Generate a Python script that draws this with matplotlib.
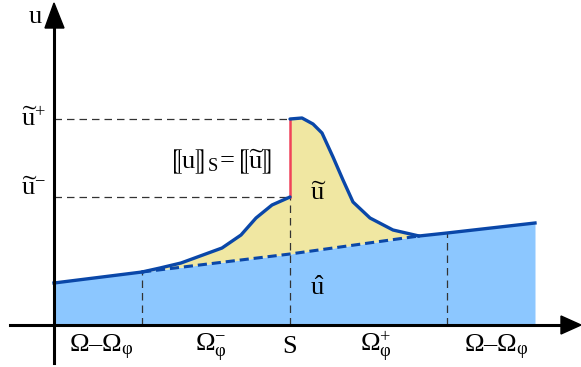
import numpy as np
import matplotlib
matplotlib.use("Agg")
import matplotlib.pyplot as plt

plt.rcParams['mathtext.fontset'] = 'custom'
plt.rcParams['mathtext.rm'] = 'Liberation Serif'
plt.rcParams['mathtext.it'] = 'Liberation Serif'
plt.rcParams['mathtext.bf'] = 'Liberation Serif:bold'
plt.rcParams['mathtext.fallback'] = 'stix'
plt.rcParams['font.family'] = ['Liberation Serif', 'DejaVu Serif']

# --- data (schematic units) ---
# smooth base field u-hat
xhat = [0, 88, 236, 365, 393, 481]
uhat = [42, 53, 71, 89, 92, 102]
# enrichment curve u-tilde, left of the discontinuity S
x_left = [88, 106, 127, 168, 187, 202, 218, 236]
u_left = [53, 57, 62, 77, 90, 107, 120, 128]
# enrichment curve u-tilde, right of the discontinuity S
x_right = [236, 248, 259, 268, 279, 289, 299, 316, 339, 365]
u_right = [206, 207, 201, 192, 168, 145, 123, 107, 95, 89]
xS = 236
x_phi_minus = 88
x_phi_plus = 393
u_tilde_plus = 206
u_tilde_minus = 128

region_labels = [r'$\Omega$–$\Omega_{φ}$', r'$\Omega_{φ}^{-}$', r'$\mathrm{S}$',
                 r'$\Omega_{φ}^{+}$', r'$\Omega$–$\Omega_{φ}$']
region_x = [47, 157, 236, 322, 442]

blue = '#0a47a8'
fillblue = '#8cc7ff'
yellow = '#f0e7a2'
red = '#f0435a'
gray = '#333333'

fig = plt.figure(figsize=(5.81, 3.67), dpi=100)
ax = fig.add_axes([0, 0, 1, 1])
ax.set_xlim(-54, 527)
ax.set_ylim(-42, 325)
ax.axis('off')

xh = np.array(xhat, float)
uh = np.array(uhat, float)

# blue fill under u-hat
ax.fill_between(xh, 0, uh, color=fillblue, lw=0, zorder=1)

# yellow fill between u-hat and u-tilde
xt = np.array(x_left + x_right, float)
ut = np.array(u_left + u_right, float)
ax.fill_between(xt, np.interp(xt, xh, uh), ut, color=yellow, lw=0, zorder=1)

# guide dashed lines
dash = dict(color=gray, lw=0.9, dashes=(6, 4), zorder=2)
ax.plot([0, xS], [u_tilde_plus, u_tilde_plus], **dash)
ax.plot([0, xS], [u_tilde_minus, u_tilde_minus], **dash)
for xv in [x_phi_minus, xS, x_phi_plus]:
    top = u_tilde_minus if xv == xS else np.interp(xv, xh, uh)
    ax.plot([xv, xv], [0, top], **dash)

# u-hat dashed inside enrichment zone
xd = np.array([x_phi_minus, xS, x_right[-1]], float)
ax.plot(xd, np.interp(xd, xh, uh), color=blue, lw=2.2, dashes=(3, 1.6), zorder=3)

# total solution curve
lw = 2.4
x_out_l = [x for x in xhat if x <= x_phi_minus]
x_out_r = [x_right[-1]] + [x for x in xhat if x > x_right[-1]]
ax.plot(x_out_l, np.interp(x_out_l, xh, uh), color=blue, lw=lw, zorder=4)
ax.plot(x_left, u_left, color=blue, lw=lw, zorder=4, solid_joinstyle='round',
        solid_capstyle='round')
ax.plot(x_right, u_right, color=blue, lw=lw, zorder=4, solid_joinstyle='round',
        solid_capstyle='round')
ax.plot(x_out_r, np.interp(x_out_r, xh, uh), color=blue, lw=lw, zorder=4)
# jump
ax.plot([xS, xS], [u_tilde_minus, u_tilde_plus], color=red, lw=1.8, zorder=3)

# axes
ax.plot([0, 0], [-38, 300], color='black', lw=2.2, zorder=5)
ax.plot([-44, 510], [0, 0], color='black', lw=2.2, zorder=5)
ax.fill([-9, 0, 10], [297, 322, 297], color='black', zorder=5)
ax.fill([507, 527, 507], [9, 0, -9], color='black', zorder=5)

fs = 19
ax.text(-19, 308, r'$\mathrm{u}$', fontsize=fs, ha='center', va='center')
ax.text(-21, 206, r'$\widetilde{\mathrm{u}}^{+}$', fontsize=fs, ha='center', va='center')
ax.text(-21, 136, r'$\widetilde{\mathrm{u}}^{-}$', fontsize=fs, ha='center', va='center')
ax.text(166, 163, r'$⟦\mathrm{u}⟧_{\mathrm{S}}\!=\!⟦\widetilde{\mathrm{u}}⟧$', fontsize=fs,
        ha='center', va='center')
ax.text(264, 131, r'$\widetilde{\mathrm{u}}$', fontsize=fs, ha='center', va='center', zorder=6)
ax.text(263, 37, r'$\hat{\mathrm{u}}$', fontsize=fs, ha='center', va='center', zorder=6)
for lab, xv in zip(region_labels, region_x):
    ax.text(xv, -22, lab, fontsize=fs, ha='center', va='center')

fig.savefig('out.png', dpi=100)
